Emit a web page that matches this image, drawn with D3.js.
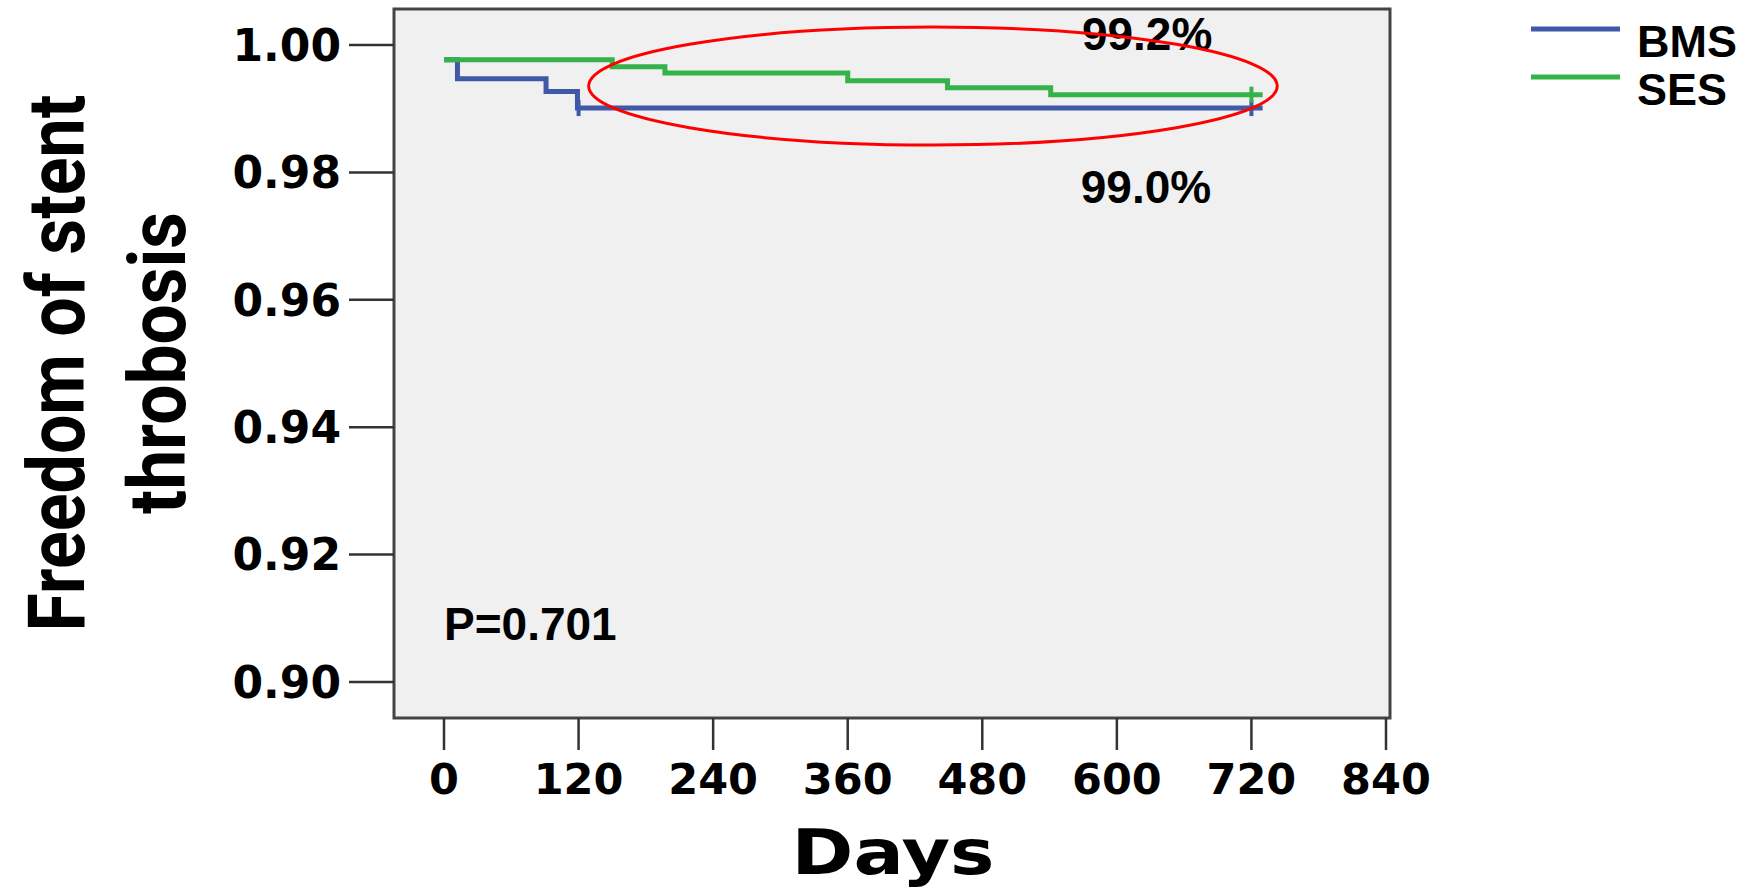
<!DOCTYPE html>
<html>
<head>
    <meta charset="utf-8">
    <title>Freedom of stent thrombosis - BMS vs SES</title>
    <script src="https://d3js.org/d3.v7.min.js"></script>
    <style>
        body { margin: 0; background: #fff; }
        svg { display: block; }
    </style>
</head>
<body>
    <div id="chart"></div>

    <script type="text/javascript">
        // x axis (days) and y axis (survival) ticks
        var dayTicks = [0, 120, 240, 360, 480, 600, 720, 840];
        var survTicks = [0.90, 0.92, 0.94, 0.96, 0.98, 1.00];

        // Kaplan-Meier steps
        var bmsDays = [0, 12, 91, 119, 730];
        var bmsSurv = [0.9977, 0.9947, 0.9927, 0.9901, 0.9901];
        var bmsCensor = [120, 720];

        var sesDays = [0, 150, 197, 360, 449, 541, 730];
        var sesSurv = [0.9977, 0.9966, 0.9956, 0.9944, 0.9933, 0.9922, 0.9922];
        var sesCensor = [720];

        var seriesNames = ["BMS", "SES"];
        var seriesColors = ["#4058a8", "#33b34a"];

        var width = 1754, height = 891;

        var x = d3.scaleLinear().domain([0, 840]).range([444, 1386]);
        var y = d3.scaleLinear().domain([0.90, 1.00]).range([682, 45]);

        // plot frame extents
        var frame = { left: 394, right: 1390, top: 9, bottom: 718 };

        var svg = d3.select("#chart").append("svg")
            .attr("width", width)
            .attr("height", height);

        svg.append("rect")
            .attr("x", frame.left)
            .attr("y", frame.top)
            .attr("width", frame.right - frame.left)
            .attr("height", frame.bottom - frame.top)
            .style("fill", "#f0f0f0")
            .style("stroke", "#444")
            .style("stroke-width", 3);

        // y axis ticks + labels
        var yAxis = svg.append("g");
        yAxis.selectAll("line").data(survTicks).enter()
            .append("line")
            .attr("x1", 349).attr("x2", frame.left)
            .attr("y1", function(d) { return y(d); })
            .attr("y2", function(d) { return y(d); })
            .style("stroke", "#333").style("stroke-width", 2.5);
        yAxis.selectAll("text").data(survTicks).enter()
            .append("text")
            .attr("x", 341)
            .attr("y", function(d) { return y(d); })
            .attr("dy", "0.36em")
            .attr("text-anchor", "end")
            .style("font-family", "DejaVu Sans")
            .style("font-weight", "bold")
            .style("font-size", "44px")
            .text(function(d) { return d3.format(".2f")(d); });

        // x axis ticks + labels
        var xAxis = svg.append("g");
        xAxis.selectAll("line").data(dayTicks).enter()
            .append("line")
            .attr("x1", function(d) { return x(d); })
            .attr("x2", function(d) { return x(d); })
            .attr("y1", frame.bottom).attr("y2", 750)
            .style("stroke", "#333").style("stroke-width", 2.5);
        xAxis.selectAll("text").data(dayTicks).enter()
            .append("text")
            .attr("x", function(d) { return x(d); })
            .attr("y", 794)
            .attr("text-anchor", "middle")
            .style("font-family", "DejaVu Sans")
            .style("font-weight", "bold")
            .style("font-size", "43px")
            .text(function(d) { return d; });

        svg.append("text")
            .attr("x", 893).attr("y", 874)
            .attr("text-anchor", "middle")
            .attr("textLength", 203)
            .attr("lengthAdjust", "spacingAndGlyphs")
            .style("font-family", "DejaVu Sans")
            .style("font-weight", "bold")
            .style("font-size", "62px")
            .text("Days");

        // y axis title, two lines
        var yTitle = [
            { text: "Freedom of stent", base: 84, len: 537 },
            { text: "throbosis", base: 185, len: 302 }
        ];
        svg.selectAll(".ytitle").data(yTitle).enter()
            .append("text")
            .attr("class", "ytitle")
            .attr("transform", function(d) { return "translate(" + d.base + ",363) rotate(-90)"; })
            .attr("text-anchor", "middle")
            .attr("textLength", function(d) { return d.len; })
            .attr("lengthAdjust", "spacingAndGlyphs")
            .style("font-family", "Roboto")
            .style("font-weight", "bold")
            .style("font-size", "80px")
            .text(function(d) { return d.text; });

        // survival curves
        var curves = [
            { name: "BMS", days: bmsDays, surv: bmsSurv, censor: bmsCensor, color: seriesColors[0] },
            { name: "SES", days: sesDays, surv: sesSurv, censor: sesCensor, color: seriesColors[1] }
        ];

        var stepLine = d3.line()
            .curve(d3.curveStepAfter)
            .x(function(d) { return x(d[0]); })
            .y(function(d) { return y(d[1]); });

        // level of a curve at a given day
        var survAt = function(c, day) {
            var s = c.surv[0];
            c.days.forEach(function(t, i) { if (t <= day) s = c.surv[i]; });
            return s;
        };

        curves.forEach(function(c) {
            var pts = c.days.map(function(t, i) { return [t, c.surv[i]]; });
            svg.append("path")
                .attr("d", stepLine(pts))
                .style("fill", "none")
                .style("stroke", c.color)
                .style("stroke-width", 5);

            svg.selectAll(".cens-" + c.name).data(c.censor).enter()
                .append("line")
                .attr("class", "cens-" + c.name)
                .attr("x1", function(d) { return x(d); })
                .attr("x2", function(d) { return x(d); })
                .attr("y1", function(d) { return y(survAt(c, d)) - 8; })
                .attr("y2", function(d) { return y(survAt(c, d)) + 8; })
                .style("stroke", c.color)
                .style("stroke-width", 4);
        });

        // annotations
        var notes = [
            { text: "99.2%", day: 627, surv: 0.99922, anchor: "middle" },
            { text: "99.0%", day: 626, surv: 0.9752, anchor: "middle" },
            { text: "P=0.701", day: 0, surv: 0.9066, anchor: "start" }
        ];
        svg.selectAll(".note").data(notes).enter()
            .append("text")
            .attr("class", "note")
            .attr("x", function(d) { return x(d.day); })
            .attr("y", function(d) { return y(d.surv); })
            .attr("text-anchor", function(d) { return d.anchor; })
            .style("font-family", "Liberation Sans")
            .style("font-weight", "bold")
            .style("font-size", "46px")
            .text(function(d) { return d.text; });

        // red ellipse highlighting the curve ends
        var ring = { day: 436, surv: 0.99356, rDays: 307, rSurv: 0.00926 };
        svg.append("ellipse")
            .attr("cx", x(ring.day))
            .attr("cy", y(ring.surv))
            .attr("rx", x(ring.rDays) - x(0))
            .attr("ry", y(1 - ring.rSurv) - y(1))
            .style("fill", "none")
            .style("stroke", "#f00")
            .style("stroke-width", 3);

        // legend
        var legend = svg.selectAll(".legend").data(seriesNames).enter()
            .append("g")
            .attr("class", "legend")
            .attr("transform", function(d, i) { return "translate(0," + (i * 48) + ")"; });
        legend.append("line")
            .attr("x1", 1531).attr("x2", 1620)
            .attr("y1", 29).attr("y2", 29)
            .style("stroke", function(d, i) { return seriesColors[i]; })
            .style("stroke-width", 5);
        legend.append("text")
            .attr("x", 1637).attr("y", 57)
            .style("font-family", "Liberation Sans")
            .style("font-weight", "bold")
            .style("font-size", "45px")
            .text(function(d) { return d; });
    </script>
</body>
</html>
